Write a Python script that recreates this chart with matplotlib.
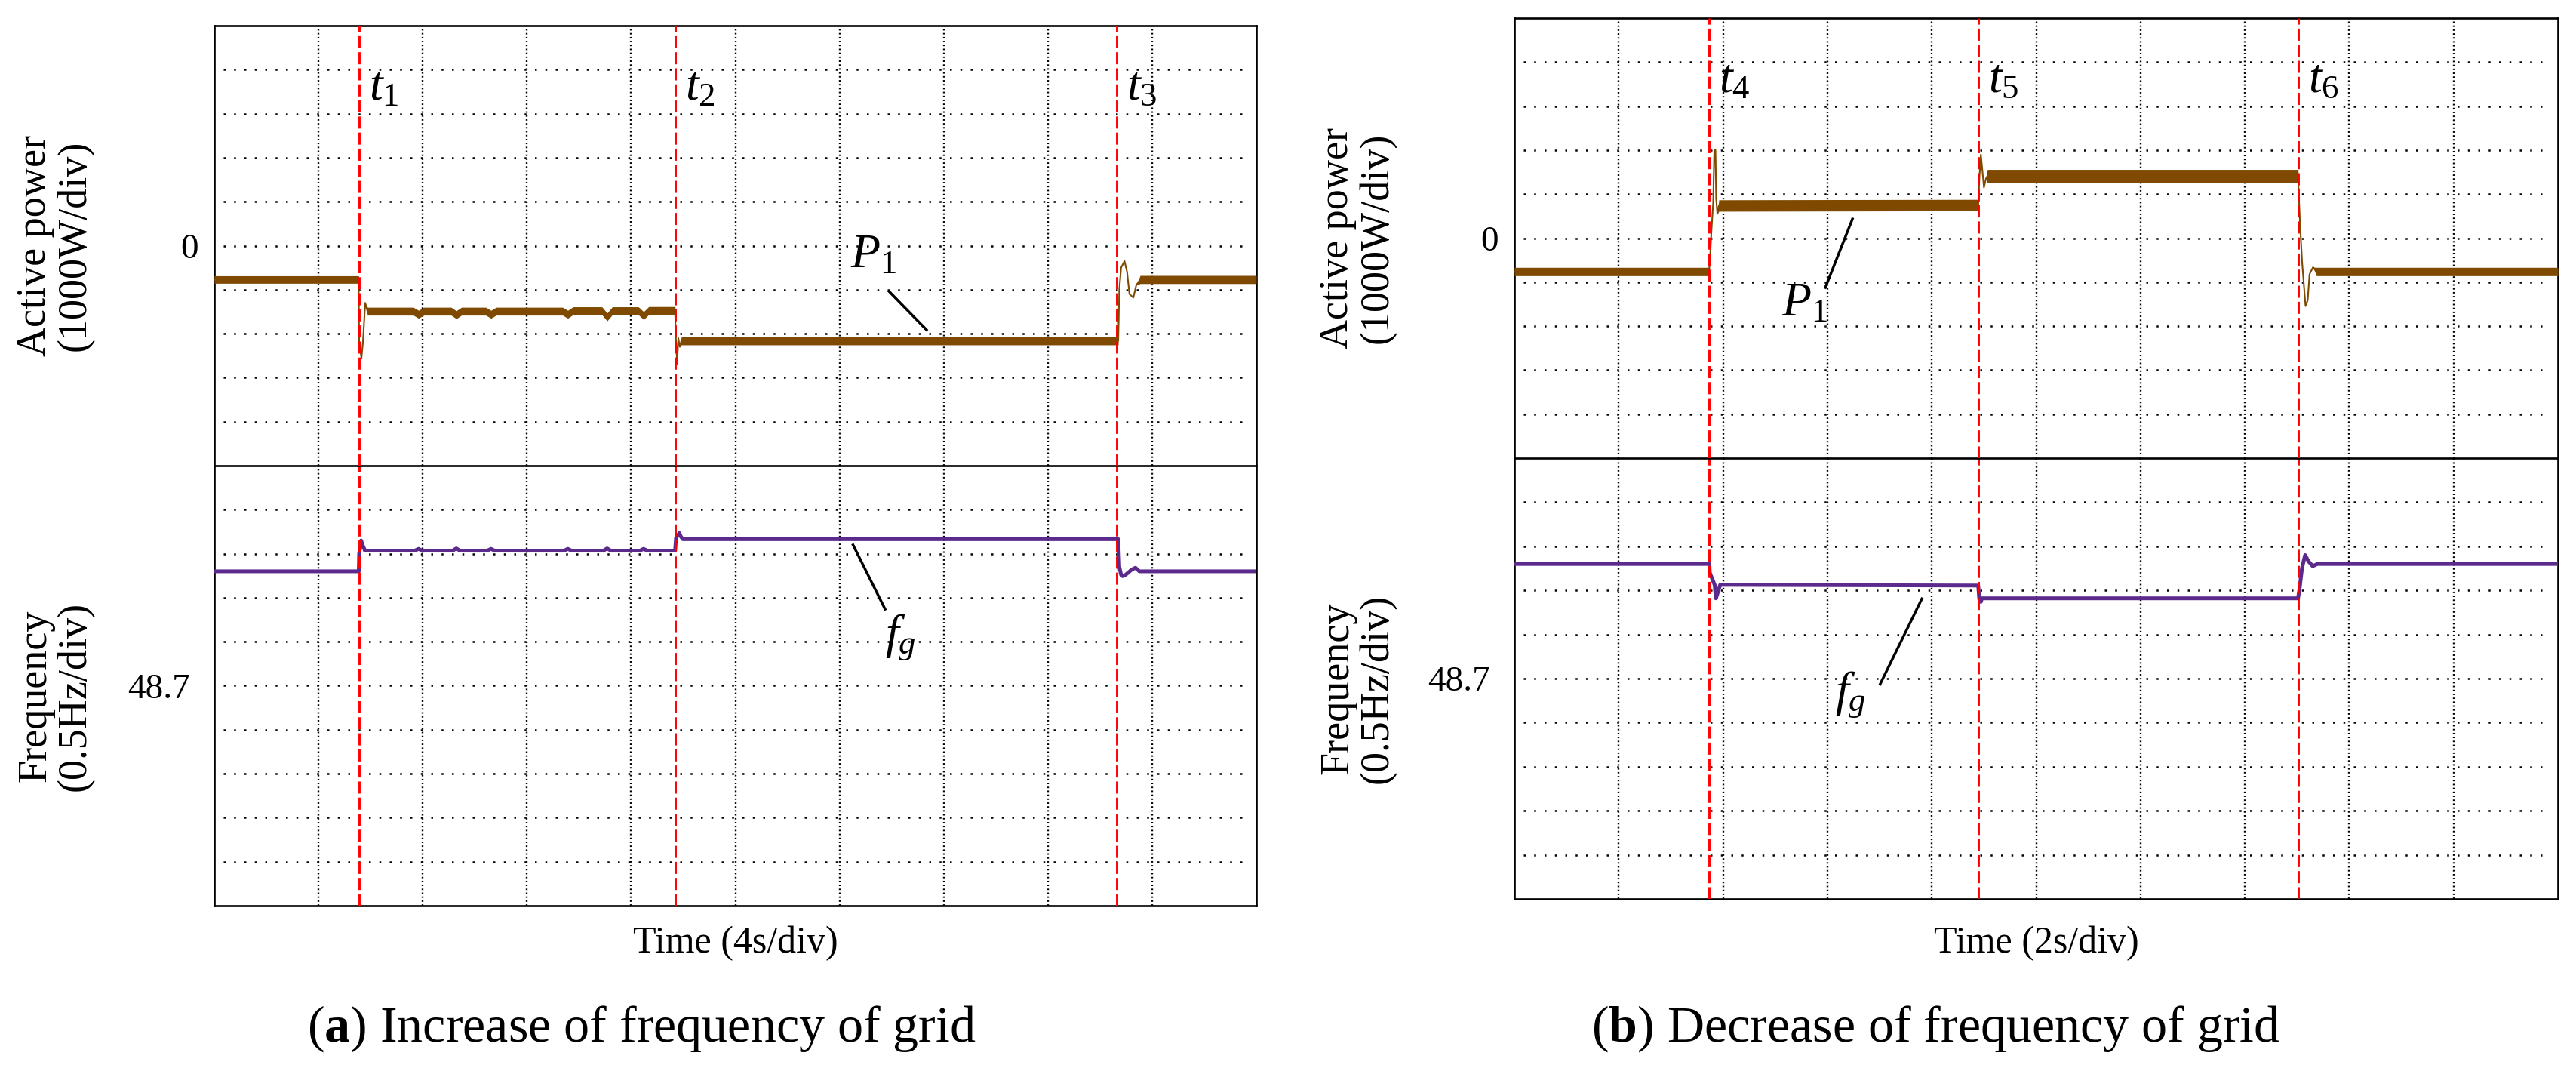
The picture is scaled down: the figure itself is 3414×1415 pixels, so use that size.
import numpy as np
import matplotlib.pyplot as plt

plt.rcParams['font.family'] = ['Liberation Serif', 'DejaVu Serif']
plt.rcParams['mathtext.fontset'] = 'custom'
plt.rcParams['mathtext.rm'] = 'Liberation Serif'
plt.rcParams['mathtext.it'] = 'Liberation Serif:italic'
plt.rcParams['mathtext.bf'] = 'Liberation Serif:bold'

# ---- panel (a): increase of grid frequency, 4 s/div ----
events_a = [5.55, 17.70, 34.63]
pa_t = [0, 5.54, 5.561, 5.648, 5.706, 5.793, 5.88,
        7.64, 7.84, 8.04, 9.09, 9.29, 9.49, 10.42, 10.62, 10.82,
        13.37, 13.57, 13.77, 14.88, 15.08, 15.28, 16.28, 16.48, 16.68,
        17.69, 17.711, 17.769, 17.812, 17.87, 17.93,
        34.70, 34.74, 34.81, 34.94, 35.04, 35.13, 35.28, 35.39, 35.54, 40]
pa_w = [-770, -770, -2200, -2560, -2200, -1300, -1490,
        -1490, -1560, -1490, -1490, -1570, -1490, -1490, -1560, -1490,
        -1490, -1560, -1480, -1480, -1620, -1480, -1480, -1590, -1475,
        -1475, -2000, -2690, -2100, -2300, -2160,
        -2160, -1000, -500, -350, -600, -1100, -1180, -900, -770, -770]
pa_rip = [85, 85, 0, 0, 0, 0, 90,
          90, 90, 90, 90, 90, 90, 90, 90, 90,
          90, 90, 90, 90, 90, 90, 90, 90, 90,
          90, 0, 0, 0, 0, 95,
          95, 0, 0, 0, 0, 0, 0, 0, 92, 92]
fa_t = [0, 5.547, 5.561, 5.636, 5.691, 5.784,
        7.70, 7.84, 7.98, 9.15, 9.29, 9.43, 10.48, 10.62, 10.76,
        13.43, 13.57, 13.71, 14.94, 15.08, 15.22, 16.34, 16.48, 16.62,
        17.69, 17.726, 17.853, 17.899, 17.986,
        34.70, 34.74, 34.81, 34.87, 34.98, 35.22, 35.36, 35.51, 40]
fa_hz = [50.0, 50.0, 50.2, 50.35, 50.30, 50.235,
         50.235, 50.255, 50.235, 50.235, 50.26, 50.235, 50.235, 50.255, 50.235,
         50.235, 50.255, 50.235, 50.235, 50.26, 50.235, 50.235, 50.255, 50.235,
         50.235, 50.38, 50.435, 50.40, 50.365,
         50.365, 50.05, 49.96, 49.945, 49.96, 50.02, 50.04, 50.0, 50.0]

# ---- panel (b): decrease of grid frequency, 2 s/div ----
events_b = [3.737, 8.898, 15.028]
pb_t = [0, 3.73, 3.753, 3.774, 3.81, 3.832, 3.854, 3.868, 3.89, 3.919,
        8.89, 8.914, 8.941, 8.965, 9.0, 9.037, 9.066,
        15.02, 15.054, 15.096, 15.163, 15.205, 15.24, 15.307, 15.372, 20]
pb_w = [-760, -760, -400, 100, 800, 2000, 2000, 900, 550, 740,
        750, 1400, 1900, 1600, 1150, 1350, 1410,
        1410, 420, -520, -1545, -1410, -820, -660, -760, -760]
pb_rip = [95, 95, 0, 0, 0, 0, 0, 0, 0, 130,
          130, 0, 0, 0, 0, 0, 150,
          150, 0, 0, 0, 0, 0, 0, 95, 95]
fb_t = [0, 3.737, 3.745, 3.80, 3.84, 3.861, 3.88, 3.945,
        8.89, 8.91, 8.941, 8.96, 9.024,
        15.02, 15.054, 15.096, 15.155, 15.22, 15.30, 15.39, 20]
fb_hz = [50.0, 50.0, 49.90, 49.82, 49.76, 49.61, 49.64, 49.763,
         49.755, 49.60, 49.57, 49.61, 49.61,
         49.61, 49.745, 49.955, 50.10, 50.03, 49.975, 50.0, 50.0]

W, H = 3414, 1415
BROWN = '#7F4A00'
PURPLE = '#5B2A8C'
RED = '#FF0000'

fig = plt.figure(figsize=(W / 100, H / 100), dpi=100)


def px_axes(x0, y0, x1, y1):
    return fig.add_axes([x0 / W, 1 - y1 / H, (x1 - x0) / W, (y1 - y0) / H])


def scope_grid(ax, xmax, ylo, yhi):
    ax.set_xlim(0, xmax)
    ax.set_ylim(ylo, yhi)
    ax.set_xticks([])
    ax.patch.set_visible(False)
    for i in range(1, 10):
        ax.axvline(xmax * i / 10, color='black', lw=1.7, dashes=(0.8, 1.4), zorder=1)
        ax.axhline(ylo + (yhi - ylo) * i / 10, xmin=0.009, xmax=0.991,
                   color='black', lw=1.8, dashes=(1, 4.5), zorder=1)
    for s in ax.spines.values():
        s.set_linewidth(1.9)
        s.set_color('black')
    ax.tick_params(axis='y', length=0, labelsize=34)


def panel(x0, x1, ytop, ymid, ybot, sdiv, events, p_t, p_w, p_r, f_t, f_hz,
          tnames, ylabx):
    xmax = sdiv * 10
    ax1 = px_axes(x0, ytop, x1, ymid)
    ax2 = px_axes(x0, ymid, x1, ybot)
    ax1.set_zorder(2)
    scope_grid(ax1, xmax, -5000, 5000)
    scope_grid(ax2, xmax, 46.2, 51.2)
    ax2.spines['top'].set_visible(False)
    ax1.set_yticks([0])
    ax1.set_yticklabels(['0'])
    ax1.tick_params(axis='y', pad=15)
    ax2.set_yticks([48.7])
    ax2.set_yticklabels(['48.7'])
    ax2.tick_params(axis='y', pad=23)

    p_t = np.array(p_t)
    p_w = np.array(p_w)
    p_r = np.array(p_r)
    ax1.fill_between(p_t, p_w - p_r, p_w + p_r, color=BROWN, lw=0, zorder=3)
    ax1.plot(p_t, p_w, color=BROWN, lw=1.5, zorder=3)
    ax2.plot(f_t, f_hz, color=PURPLE, lw=3.6, zorder=3)

    for ax in (ax1, ax2):
        for ev in events:
            ax.axvline(ev, color=RED, lw=2.1, dashes=(5.5, 1.8), zorder=4)
    for ev, name in zip(events, tnames):
        ax1.text(ev + 0.24 * sdiv, 3570, name, fontsize=46, ha='center', va='center')

    fig.text(ylabx / W, 1 - (ytop + 291) / H, 'Active power\n(1000W/div)', rotation=90,
             ha='center', va='center', multialignment='center', fontsize=39,
             linespacing=1.05)
    fig.text(ylabx / W, 1 - (ymid + 305) / H, 'Frequency\n(0.5Hz/div)', rotation=90,
             ha='center', va='center', multialignment='center', fontsize=39,
             linespacing=1.05)
    fig.text((x0 + x1) / 2 / W, 1 - 1262 / H, 'Time (%ds/div)' % sdiv,
             ha='center', va='baseline', fontsize=36)
    return ax1, ax2


a1, a2 = panel(284, 1665, 34, 617, 1200, 4, events_a, pa_t, pa_w, pa_rip, fa_t, fa_hz,
               [r'$t_1$', r'$t_2$', r'$t_3$'], 73)
b1, b2 = panel(2007, 3390, 24, 607, 1191, 2, events_b, pb_t, pb_w, pb_rip, fb_t, fb_hz,
               [r'$t_4$', r'$t_5$', r'$t_6$'], 1799)

# signal labels with leader lines
a1.text(25.29, -231, r'$P_1$', fontsize=46, ha='center', va='center')
a1.plot([25.9, 27.34], [-1038, -1913], color='black', lw=2.5, zorder=5)
a2.text(26.34, 49.253, r'$f_g$', fontsize=46, ha='center', va='center')
a2.plot([24.52, 25.75], [50.30, 49.57], color='black', lw=2.5, zorder=5)

b1.text(5.56, -1501, r'$P_1$', fontsize=46, ha='center', va='center')
b1.plot([6.48, 5.96], [437, -1123], color='black', lw=2.5, zorder=5)
b2.text(6.435, 48.519, r'$f_g$', fontsize=46, ha='center', va='center')
b2.plot([7.81, 7.01], [49.605, 48.636], color='black', lw=2.5, zorder=5)

fig.text(850 / W, 1 - 1380 / H, r'($\mathbf{a}$) Increase of frequency of grid',
         ha='center', va='baseline', fontsize=49)
fig.text(2566 / W, 1 - 1380 / H, r'($\mathbf{b}$) Decrease of frequency of grid',
         ha='center', va='baseline', fontsize=49)

fig.savefig('out.png', dpi=100)
